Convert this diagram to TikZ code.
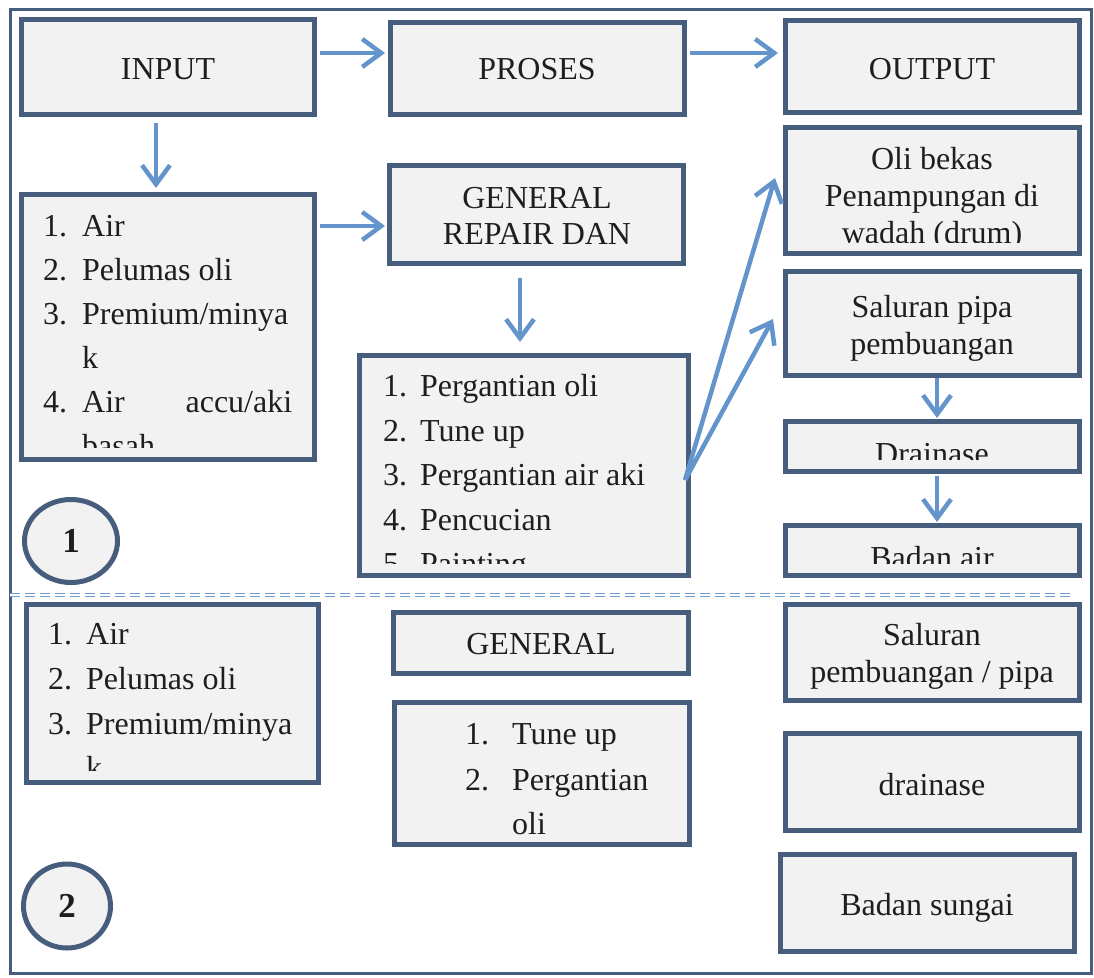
\documentclass[tikz,border=0pt]{standalone}
\usepackage{fontspec}
\setmainfont{Liberation Serif}
\usetikzlibrary{arrows.meta,shapes.geometric}
\definecolor{boxline}{HTML}{465D7E}
\definecolor{boxfill}{HTML}{F2F2F2}
\definecolor{flowblue}{HTML}{6394CC}
\definecolor{sepblue}{HTML}{6F9BD2}
\definecolor{ink}{HTML}{1E1E1E}
\tikzset{
  box/.style={draw=boxline, fill=boxfill, line width=5pt, inner sep=0pt},
  ring/.style={ellipse, draw=boxline, fill=boxfill, line width=5pt, inner sep=0pt,
    text=ink, font=\fontsize{35}{40}\selectfont\bfseries},
  flow/.style={draw=flowblue, line width=4.5pt, -{Straight Barb[length=19pt,width=28pt]}},
  txt/.style={anchor=base, inner sep=0pt, text=ink, font=\fontsize{32}{44}\selectfont},
  ltxt/.style={txt, anchor=base west},
}

\begin{document}
\begin{tikzpicture}[x=1pt, y=-1pt]
			%%%%% START %%%%%
			\useasboundingbox (0,0) rectangle (1094,977);
			\draw[draw=boxline, line width=3pt] (10,9) rectangle (1091,973);
			
			% boxes, part 1
			\node[box, minimum width=293, minimum height=95] (input) at (168,67) {};
			\node[box, minimum width=294, minimum height=92] (proses) at (537.5,68.5) {};
			\node[box, minimum width=294, minimum height=92] (output) at (932.5,66.5) {};
			\node[box, minimum width=293, minimum height=265] (inlist) at (168,327) {};
			\node[box, minimum width=294, minimum height=98] (repair) at (536.5,214.5) {};
			\node[box, minimum width=329, minimum height=220] (kegiatan) at (524,465.5) {};
			\node[box, minimum width=294, minimum height=126] (olibekas) at (932.5,190.5) {};
			\node[box, minimum width=294, minimum height=104] (saluran) at (932.5,323.5) {};
			\node[box, minimum width=294, minimum height=50] (drainase) at (932.5,446.5) {};
			\node[box, minimum width=294, minimum height=50] (badanair) at (932.5,550.5) {};
			\node[ring, minimum width=93, minimum height=83] (c1) at (71,541) {1};
			
			\node[txt] (tinput) at (168,79) {INPUT};
			\node[txt] (tproses) at (537,79) {PROSES};
			\node[txt] (toutput) at (932,79) {OUTPUT};
			\node[txt] (trep1) at (537,208) {GENERAL};
			\node[txt] (trep2) at (537,244) {REPAIR DAN};
			\node[txt] (tsal1) at (932,317) {Saluran pipa};
			\node[txt] (tsal2) at (932,354) {pembuangan};
			
			\begin{scope}
			\clip ([yshift=15pt]inlist.south west) rectangle (inlist.north east);
			\node[ltxt] (n11) at (43,236) {1.};
			\node[ltxt] (i11) at (82,236) {Air};
			\node[ltxt] (n12) at (43,280) {2.};
			\node[ltxt] (i12) at (82,280) {Pelumas oli};
			\node[ltxt] (n13) at (43,324) {3.};
			\node[ltxt] (i13) at (82,324) {Premium/minya};
			\node[ltxt] (i13b) at (82,368) {k};
			\node[ltxt] (n14) at (43,412) {4.};
			\node[ltxt] (i14) at (82,412) {\makebox[210pt][l]{Air\hfill accu/aki}};
			\node[ltxt] (i14b) at (82,456) {basah};
			\end{scope}
			
			\begin{scope}
			\clip ([yshift=15pt]kegiatan.south west) rectangle (kegiatan.north east);
			\node[ltxt] (n21) at (383,396) {1.};
			\node[ltxt] (i21) at (420,396) {Pergantian oli};
			\node[ltxt] (n22) at (383,441) {2.};
			\node[ltxt] (i22) at (420,441) {Tune up};
			\node[ltxt] (n23) at (383,485) {3.};
			\node[ltxt] (i23) at (420,485) {Pergantian air aki};
			\node[ltxt] (n24) at (383,530) {4.};
			\node[ltxt] (i24) at (420,530) {Pencucian};
			\node[ltxt] (n25) at (383,574) {5.};
			\node[ltxt] (i25) at (420,574) {Painting};
			\end{scope}
			
			\begin{scope}
			\clip ([yshift=14pt]olibekas.south west) rectangle (olibekas.north east);
			\node[txt] (toli1) at (932,169) {Oli bekas};
			\node[txt] (toli2) at (932,206) {Penampungan di};
			\node[txt] (toli3) at (932,243) {wadah (drum)};
			\end{scope}
			
			\begin{scope}
			\clip ([yshift=15pt]drainase.south west) rectangle (drainase.north east);
			\node[txt] (tdrain) at (932,464) {Drainase};
			\end{scope}
			
			\begin{scope}
			\clip ([yshift=15pt]badanair.south west) rectangle (badanair.north east);
			\node[txt] (tbadan) at (932,568) {Badan air};
			\end{scope}
			
			% arrows
			\draw[flow] ([xshift=3pt,yshift=14pt]input.east) -- ([xshift=-3pt,yshift=15.5pt]proses.west);
			\draw[flow] ([xshift=3pt,yshift=15.5pt]proses.east) -- ([xshift=-5pt,yshift=13.5pt]output.west);
			\draw[flow] ([xshift=-12pt,yshift=-6pt]input.south) -- ([xshift=-12pt,yshift=4pt]inlist.north);
			\draw[flow] ([xshift=3pt,yshift=101pt]inlist.east) -- ([xshift=-2pt,yshift=-11.5pt]repair.west);
			\draw[flow] ([xshift=-16.5pt,yshift=-12pt]repair.south) -- ([xshift=-4pt,yshift=11pt]kegiatan.north);
			\draw[flow] ([xshift=-6pt,yshift=-14.5pt]kegiatan.east) -- ([xshift=-8pt,yshift=12.5pt]olibekas.west);
			\draw[flow] ([xshift=-6pt,yshift=-14.5pt]kegiatan.east) -- ([xshift=-10pt,yshift=4.5pt]saluran.west);
			\draw[flow] ([xshift=4.5pt]saluran.south) -- ([xshift=4.5pt,yshift=1pt]drainase.north);
			\draw[flow] ([xshift=4.5pt,yshift=-2pt]drainase.south) -- ([xshift=4.5pt,yshift=1pt]badanair.north);
			
			% separator
			\draw[sepblue, line width=1.2pt, double=white, double distance=1.2pt,
			  dash pattern=on 10pt off 5pt] (10,595) -- (1071,595);
			
			% boxes, part 2
			\node[box, minimum width=292, minimum height=178] (inlist2) at (172.5,693.5) {};
			\node[box, minimum width=295, minimum height=61] (general) at (541,643) {};
			\node[box, minimum width=295, minimum height=142] (tuneup) at (542,773.5) {};
			\node[box, minimum width=294, minimum height=96] (saluran2) at (932.5,652.5) {};
			\node[box, minimum width=294, minimum height=97] (drainase2) at (932.5,782) {};
			\node[box, minimum width=294, minimum height=97] (sungai) at (927.5,903) {};
			\node[ring, minimum width=87, minimum height=84] (c2) at (67,906) {2};
			
			\begin{scope}
			\clip ([yshift=15pt]inlist2.south west) rectangle (inlist2.north east);
			\node[ltxt] (n31) at (48,644) {1.};
			\node[ltxt] (i31) at (86,644) {Air};
			\node[ltxt] (n32) at (48,689) {2.};
			\node[ltxt] (i32) at (86,689) {Pelumas oli};
			\node[ltxt] (n33) at (48,734) {3.};
			\node[ltxt] (i33) at (86,734) {Premium/minya};
			\node[ltxt] (i33b) at (86,778) {k};
			\end{scope}
			
			\node[txt] (tgen) at (541,654) {GENERAL};
			\node[ltxt] (n41) at (465,744) {1.};
			\node[ltxt] (i41) at (512,744) {Tune up};
			\node[ltxt] (n42) at (465,790) {2.};
			\node[ltxt] (i42) at (512,790) {Pergantian};
			\node[ltxt] (i42b) at (512,834) {oli};
			\node[txt] (tsal3) at (932,645) {Saluran};
			\node[txt] (tsal4) at (932,682) {pembuangan / pipa};
			\node[txt] (tdrain2) at (932,795) {drainase};
			\node[txt] (tsungai) at (927,915) {Badan sungai};
			
			%%%%% END %%%%%
\end{tikzpicture}
\end{document}
